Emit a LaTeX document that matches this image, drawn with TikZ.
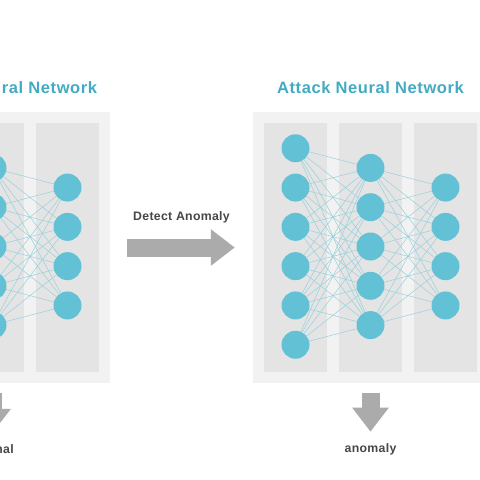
\documentclass[tikz,border=0pt]{standalone}
\usepackage{fontspec}
\setmainfont{Liberation Sans}
\usepackage{xcolor}
\usetikzlibrary{arrows.meta}
\definecolor{neuronblue}{HTML}{62C1D5}
\definecolor{wireblue}{HTML}{98D0DC}
\definecolor{panelgray}{HTML}{F2F2F2}
\definecolor{layergray}{HTML}{E4E4E4}
\definecolor{titleblue}{HTML}{42AAC3}
\definecolor{arrowgray}{HTML}{ABABAB}
\tikzset{neuron/.style = {circle, fill=neuronblue, minimum size=28pt, inner sep=0pt},
  wire/.style = {draw=wireblue, line width=0.5pt},
  panel/.style = {fill=panelgray, minimum width=235pt, minimum height=271pt, inner sep=0pt},
  layer/.style = {fill=layergray, minimum width=63pt, minimum height=249pt, inner sep=0pt},
  title/.style = {font=\bfseries\fontsize{16.5}{19}\selectfont\addfontfeatures{LetterSpace=3.6}, text=titleblue},
  caption/.style = {font=\bfseries\fontsize{12.3}{14}\selectfont\addfontfeatures{LetterSpace=2.5}, text=black!72},
  bigarrow/.style = {arrowgray, line width=18pt, -{Triangle[length=24pt, width=35pt]}}}

\begin{document}
\begin{tikzpicture}[x=1pt, y=-1pt]
  \useasboundingbox (0,0) rectangle (480,480);
  \clip (0,0) rectangle (480,480);

  \foreach \net/\cx/\tx/\name/\result in {N/-7.5/0.5/Normal/normal, A/370.5/370.5/Attack/anomaly} {
    \node [panel] (\net-panel) at (\cx, 247.5) {};
    \node [layer] (\net-l1) at ({\cx-75}, 247.5) {};
    \node [layer] (\net-l2) at (\cx, 247.5) {};
    \node [layer] (\net-l3) at ({\cx+75}, 247.5) {};

    % neurons
    \foreach \i in {1,...,6}
      \node [neuron] (\net-1-\i) at ({\cx-75}, {246.5+39.3*(\i-3.5)}) {};
    \foreach \i in {1,...,5}
      \node [neuron] (\net-2-\i) at (\cx, {246.5+39.3*(\i-3)}) {};
    \foreach \i in {1,...,4}
      \node [neuron] (\net-3-\i) at ({\cx+75}, {246.5+39.3*(\i-2.5)}) {};

    % weights
    \foreach \i in {1,...,6}
      \foreach \j in {1,...,5}
        \draw [wire] (\net-1-\i) -- (\net-2-\j);
    \foreach \i in {1,...,5}
      \foreach \j in {1,...,4}
        \draw [wire] (\net-2-\i) -- (\net-3-\j);

    \node [title] (\net-title) at (\tx, 88) {\name\ Neural Network};
    \node [caption] (\net-result) at (\cx, 449) {\result};
    \draw [bigarrow, shorten <=10pt, shorten >=8pt] (\net-panel.south) -- (\net-result.north);
  }

  \node [caption] (detect) at (181.5, 217) {Detect Anomaly};
  \draw [bigarrow, shorten <=17pt, shorten >=18pt] (N-panel.east) -- (A-panel.west);
\end{tikzpicture}
\end{document}
